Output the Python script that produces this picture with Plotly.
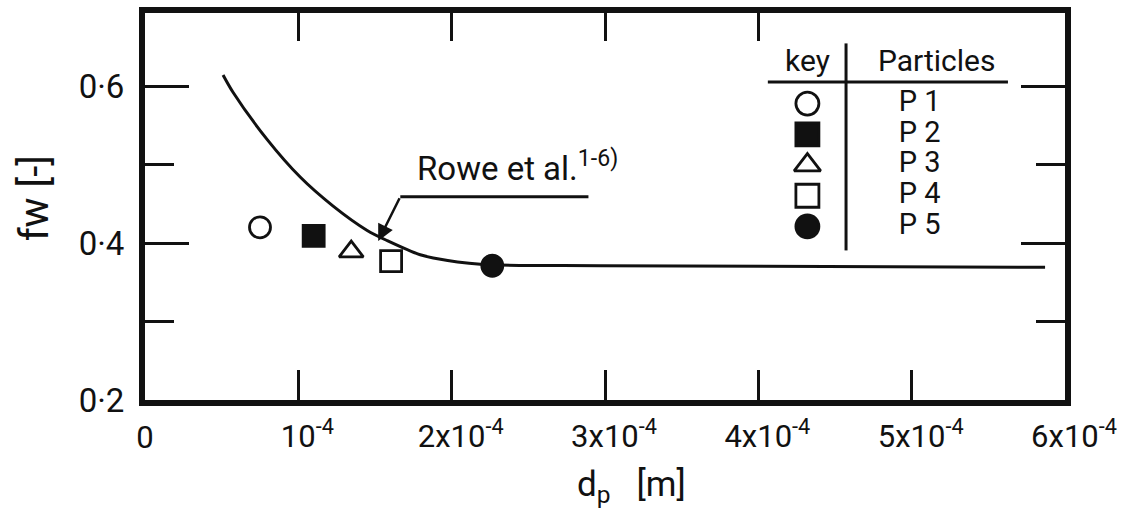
import plotly.graph_objects as go

# Particle measurements: wake fraction f_w against particle diameter d_p
particles = ["P 1", "P 2", "P 3", "P 4", "P 5"]
dp_m = [0.75e-4, 1.10e-4, 1.345e-4, 1.605e-4, 2.265e-4]
fw = [0.420, 0.409, 0.389, 0.377, 0.371]
symbols = ["circle-open", "square", "triangle-up-open", "square-open", "circle"]

# Rowe et al. correlation curve
rowe_dp = [0.509e-4, 0.574e-4, 0.796e-4, 1.012e-4, 1.227e-4, 1.449e-4,
           1.580e-4, 1.795e-4, 1.880e-4, 2.187e-4, 2.97e-4, 5.87e-4]
rowe_fw = [0.614, 0.592, 0.532, 0.484, 0.447, 0.416,
           0.403, 0.385, 0.381, 0.373, 0.371, 0.369]

# Axis ticks
x_tickvals = [1e-4, 2e-4, 3e-4, 4e-4, 5e-4, 6e-4]
x_ticktext = ["10<sup>-4</sup>", "2x10<sup>-4</sup>", "3x10<sup>-4</sup>",
              "4x10<sup>-4</sup>", "5x10<sup>-4</sup>", "6x10<sup>-4</sup>"]
x_top_tickvals = [1e-4, 2e-4, 3e-4, 4e-4]
y_tickvals = [0.2, 0.4, 0.6]
y_ticktext = ["0·2", "0·4", "0·6"]
y_minor_tickvals = [0.3, 0.5]

FONT = "Roboto"
INK = "#111111"

fig = go.Figure()

fig.add_trace(go.Scatter(
    x=rowe_dp, y=rowe_fw, mode="lines",
    line=dict(color=INK, width=3, shape="spline", smoothing=0.8),
    showlegend=False, hoverinfo="skip"))

fig.add_trace(go.Scatter(
    x=dp_m, y=fw, mode="markers",
    marker=dict(symbol=symbols, size=21, color=INK,
                line=dict(color=INK, width=2.8)),
    showlegend=False))

# top-edge ticks (helper axis)
fig.add_trace(go.Scatter(x=[None], y=[None], xaxis="x2", yaxis="y",
                         showlegend=False, hoverinfo="skip"))
# "0" label on the bottom edge (helper axis)
fig.add_trace(go.Scatter(x=[None], y=[None], xaxis="x4", yaxis="y",
                         showlegend=False, hoverinfo="skip"))

# key table: one row per particle
rows = list(range(len(particles)))
fig.add_trace(go.Scatter(
    x=[0.720] * len(rows), y=rows, xaxis="x3", yaxis="y3", mode="markers",
    marker=dict(symbol=symbols, size=23, color=INK,
                line=dict(color=INK, width=2.8)),
    showlegend=False, hoverinfo="skip"))
fig.add_trace(go.Scatter(
    x=[0.842] * len(rows), y=rows, xaxis="x3", yaxis="y3", mode="text",
    text=particles, textposition="middle center",
    textfont=dict(family=FONT, size=29, color=INK),
    showlegend=False, hoverinfo="skip"))

annotations = [
    dict(xref="x3", yref="y3", x=0.720, y=-1.40, text="key", showarrow=False,
         font=dict(family=FONT, size=30, color=INK)),
    dict(xref="x3", yref="y3", x=0.860, y=-1.40, text="Particles", showarrow=False,
         font=dict(family=FONT, size=30, color=INK)),
    # Rowe et al. label with leader arrow
    dict(xref="x", yref="y", x=1.760e-4, y=0.468, xanchor="left", yanchor="bottom",
         text="Rowe et al.<sup>1-6)</sup>", showarrow=False,
         font=dict(family=FONT, size=33, color=INK)),
    dict(xref="x", yref="y", x=1.521e-4, y=0.4025, ax=1.665e-4, ay=0.459,
         axref="x", ayref="y", text="", showarrow=True, arrowhead=2,
         arrowsize=1.3, arrowwidth=2.5, arrowcolor=INK),
    # axis titles
    dict(xref="paper", yref="paper", x=0.529, y=-0.224, xanchor="center",
         yanchor="middle", text="d<sub>p</sub>   [m]",
         showarrow=False, font=dict(family=FONT, size=35, color=INK)),
    dict(xref="paper", yref="paper", x=-0.12, y=0.52, xanchor="center",
         yanchor="middle", text="fw [-]", textangle=-90,
         showarrow=False, font=dict(family=FONT, size=40, color=INK)),
]

shapes = [
    dict(type="line", xref="x", yref="y", x0=1.665e-4, x1=2.892e-4, y0=0.459, y1=0.459,
         line=dict(color=INK, width=3)),
    # key table rules
    dict(type="line", xref="x3", yref="y3", x0=0.677, x1=0.938, y0=-0.70, y1=-0.70,
         line=dict(color=INK, width=3)),
    dict(type="line", xref="x3", yref="y3", x0=0.762, x1=0.762, y0=-1.96, y1=4.78,
         line=dict(color=INK, width=3)),
]

fig.update_layout(
    width=1131, height=528,
    margin=dict(l=145, r=66, t=7, b=128),
    paper_bgcolor="white", plot_bgcolor="white",
    font=dict(family=FONT, color=INK),
    xaxis=dict(range=[0, 6e-4], showgrid=False, zeroline=False,
               showline=True, linewidth=6, linecolor=INK, mirror=True,
               ticks="inside", ticklen=30, tickwidth=3, tickcolor=INK,
               tickvals=x_tickvals, ticktext=x_ticktext, ticklabelshift=9,
               ticklabelstandoff=4,
               tickfont=dict(family=FONT, size=31, color=INK)),
    xaxis2=dict(range=[0, 6e-4], overlaying="x", side="top", anchor="y",
                showgrid=False, zeroline=False, showline=False,
                ticks="inside", ticklen=28, tickwidth=3, tickcolor=INK,
                tickvals=x_top_tickvals, showticklabels=False),
    xaxis4=dict(range=[0, 6e-4], overlaying="x", side="bottom", anchor="y",
                showgrid=False, zeroline=False, showline=False, ticks="",
                tickvals=[0], ticktext=["0"], ticklabelstandoff=16,
                tickfont=dict(family=FONT, size=31, color=INK)),
    yaxis=dict(range=[0.2, 0.693], showgrid=False, zeroline=False,
               showline=True, linewidth=6, linecolor=INK, mirror="ticks",
               ticks="inside", ticklen=44, tickwidth=3, tickcolor=INK,
               tickvals=y_tickvals, ticktext=y_ticktext, ticklabelstandoff=8,
               tickfont=dict(family=FONT, size=33, color=INK),
               minor=dict(tickvals=y_minor_tickvals, ticks="inside", ticklen=29,
                          tickwidth=3, tickcolor=INK, showgrid=False)),
    xaxis3=dict(domain=[0, 1], range=[0, 1], overlaying="x", anchor="y3", visible=False),
    yaxis3=dict(range=[9.65, -2.95], overlaying="y", anchor="x3", visible=False),
    annotations=annotations,
    shapes=shapes,
    showlegend=False,
)

fig.write_html("out.html")
